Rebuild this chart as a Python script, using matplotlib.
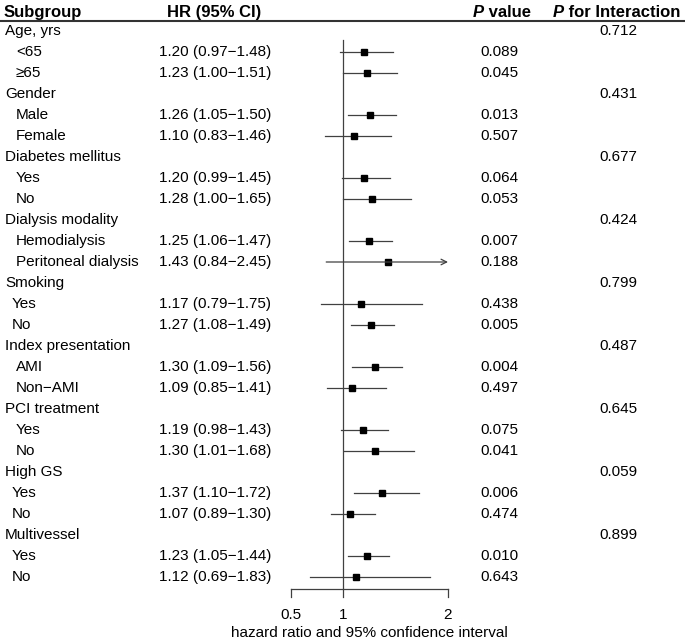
import numpy as np
import matplotlib.pyplot as plt
from matplotlib.transforms import blended_transform_factory

plt.rcParams['font.family'] = ['Liberation Sans', 'DejaVu Sans']

# rows of the table
labels = ['Age, yrs', '<65', '≥65',
          'Gender', 'Male', 'Female',
          'Diabetes mellitus', 'Yes', 'No',
          'Dialysis modality', 'Hemodialysis', 'Peritoneal dialysis',
          'Smoking', 'Yes', 'No',
          'Index presentation', 'AMI', 'Non\u2212AMI',
          'PCI treatment', 'Yes', 'No',
          'High GS', 'Yes', 'No',
          'Multivessel', 'Yes', 'No']
is_group = [True, False, False] * 9
hr = [None, 1.20, 1.23, None, 1.26, 1.10, None, 1.20, 1.28, None, 1.25, 1.43,
      None, 1.17, 1.27, None, 1.30, 1.09, None, 1.19, 1.30, None, 1.37, 1.07,
      None, 1.23, 1.12]
lo = [None, 0.97, 1.00, None, 1.05, 0.83, None, 0.99, 1.00, None, 1.06, 0.84,
      None, 0.79, 1.08, None, 1.09, 0.85, None, 0.98, 1.01, None, 1.10, 0.89,
      None, 1.05, 0.69]
hi = [None, 1.48, 1.51, None, 1.50, 1.46, None, 1.45, 1.65, None, 1.47, 2.45,
      None, 1.75, 1.49, None, 1.56, 1.41, None, 1.43, 1.68, None, 1.72, 1.30,
      None, 1.44, 1.83]
p_value = ['', '0.089', '0.045', '', '0.013', '0.507', '', '0.064', '0.053',
           '', '0.007', '0.188', '', '0.438', '0.005', '', '0.004', '0.497',
           '', '0.075', '0.041', '', '0.006', '0.474', '', '0.010', '0.643']
p_inter = ['0.712', '', '', '0.431', '', '', '0.677', '', '', '0.424', '', '',
           '0.799', '', '', '0.487', '', '', '0.645', '', '', '0.059', '', '',
           '0.899', '', '']
xticks = [0.5, 1, 2]
xmax = 2.0

W, H = 685, 643
fig = plt.figure(figsize=(W / 100, H / 100), dpi=100)
ax = fig.add_axes([0, 0, 1, 1])
ax.axis('off')

# pixel layout: value 0 at x=238px, 105px per unit; row 0 at y=31px, 21px per row
x0, xs = 238, 105
y0, ys = 31, 21.0
ax.set_xlim(-x0 / xs, (W - x0) / xs)
ax.set_ylim((H - y0) / ys, -y0 / ys)

tr = blended_transform_factory(fig.transFigure, ax.transData)
fs = 11
hfs = 12
lc = '#404040'
n = len(labels)

# header
hy = -0.9
ax.text(4 / W, hy, 'Subgroup', transform=tr, fontsize=hfs, fontweight='bold', va='center')
ax.text(167 / W, hy, 'HR (95% CI)', transform=tr, fontsize=hfs, fontweight='bold', va='center')
for xpx, rest in [(473, ' value'), (553, ' for Interaction')]:
    t = ax.text(xpx / W, hy, 'P', transform=tr, fontsize=hfs, fontweight='bold',
                fontstyle='italic', va='center')
    ax.annotate(rest, xy=(1, 0.5), xycoords=t, fontsize=hfs, fontweight='bold',
                va='center', ha='left')
ax.plot([0, 1], [-0.47, -0.47], transform=tr, color='#333333', lw=1.5)

narrow = {'Smoking', 'High GS', 'Multivessel'}
group = ''
for i in range(n):
    if is_group[i]:
        group = labels[i]
        xpx = 5
    else:
        xpx = 12 if group in narrow else 16
    ax.text(xpx / W, i, labels[i], transform=tr, fontsize=fs, va='center')
    if hr[i] is not None:
        ax.text(159 / W, i, f'{hr[i]:.2f} ({lo[i]:.2f}\u2212{hi[i]:.2f})',
                transform=tr, fontsize=fs, va='center')
        ax.text(480 / W, i, p_value[i], transform=tr, fontsize=fs, va='center')
        if hi[i] > xmax:
            ax.annotate('', xy=(xmax, i), xytext=(lo[i], i),
                        arrowprops=dict(arrowstyle='->', color=lc, lw=0.9,
                                        shrinkA=0, shrinkB=0))
        else:
            ax.plot([lo[i], hi[i]], [i, i], color=lc, lw=0.9)
        ax.plot(hr[i], i, 's', color='black', ms=5)
    if p_inter[i]:
        ax.text(599 / W, i, p_inter[i], transform=tr, fontsize=fs, va='center')

# reference line and axis
axis_y = 26.57
ax.plot([1, 1], [0.43, axis_y], color=lc, lw=0.9)
ax.plot([xticks[0], xticks[-1]], [axis_y, axis_y], color=lc, lw=0.9)
for t in xticks:
    ax.plot([t, t], [axis_y, axis_y + 0.38], color=lc, lw=0.9)
    ax.text(t, 27.8, f'{t:g}', fontsize=fs, ha='center', va='center')
ax.text((xticks[0] + xticks[-1]) / 2, 28.67, 'hazard ratio and 95% confidence interval',
        fontsize=fs, ha='center', va='center')

fig.savefig('out.png', dpi=100)
